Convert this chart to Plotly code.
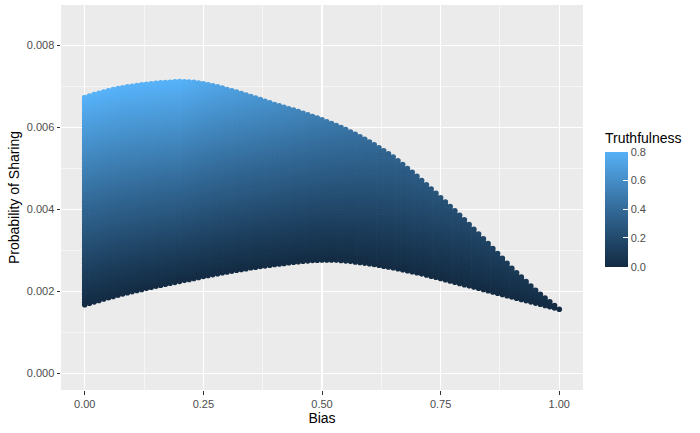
import numpy as np
import plotly.graph_objects as go

# ---- data ----
bias = [round(0.01 * i, 2) for i in range(101)]
truthfulness = [round(0.01 * i, 2) for i in range(81)]

# probability of sharing at truthfulness = 0 (lower edge), per bias value (x 1e-3)
lower_e3 = [
    1.670, 1.705, 1.740, 1.775, 1.808, 1.840, 1.871, 1.901, 1.931, 1.961,
    1.990, 2.017, 2.043, 2.069, 2.095, 2.120, 2.144, 2.168, 2.192, 2.216,
    2.240, 2.264, 2.288, 2.312, 2.336, 2.360, 2.382, 2.404, 2.426, 2.448,
    2.470, 2.490, 2.510, 2.530, 2.550, 2.570, 2.586, 2.602, 2.618, 2.634,
    2.650, 2.664, 2.678, 2.692, 2.706, 2.720, 2.730, 2.740, 2.748, 2.755,
    2.760, 2.762, 2.762, 2.758, 2.750, 2.740, 2.728, 2.714, 2.700, 2.685,
    2.670, 2.651, 2.631, 2.611, 2.591, 2.570, 2.547, 2.523, 2.499, 2.475,
    2.450, 2.423, 2.395, 2.367, 2.339, 2.310, 2.280, 2.250, 2.220, 2.190,
    2.160, 2.130, 2.100, 2.070, 2.040, 2.010, 1.980, 1.950, 1.920, 1.890,
    1.860, 1.830, 1.800, 1.770, 1.740, 1.710, 1.680, 1.650, 1.620, 1.590,
    1.560,
]
# probability of sharing at the highest truthfulness present in each column
# (0.8 up to bias 0.2, then 1 - bias), per bias value (x 1e-3)
upper_e3 = [
    6.720, 6.757, 6.793, 6.827, 6.859, 6.890, 6.916, 6.940, 6.962, 6.982,
    7.000, 7.016, 7.031, 7.045, 7.058, 7.070, 7.080, 7.089, 7.097, 7.104,
    7.110, 7.108, 7.102, 7.092, 7.078, 7.060, 7.036, 7.010, 6.982, 6.952,
    6.920, 6.887, 6.854, 6.820, 6.785, 6.750, 6.711, 6.672, 6.633, 6.594,
    6.555, 6.520, 6.485, 6.450, 6.415, 6.380, 6.341, 6.302, 6.262, 6.221,
    6.180, 6.134, 6.088, 6.040, 5.991, 5.940, 5.884, 5.826, 5.766, 5.704,
    5.640, 5.570, 5.498, 5.424, 5.348, 5.270, 5.180, 5.088, 4.994, 4.898,
    4.800, 4.698, 4.594, 4.490, 4.385, 4.280, 4.173, 4.066, 3.959, 3.851,
    3.740, 3.625, 3.509, 3.393, 3.277, 3.160, 3.040, 2.920, 2.800, 2.680,
    2.560, 2.450, 2.342, 2.234, 2.127, 2.020, 1.926, 1.834, 1.742, 1.651,
    1.560,
]

x_ticks = [0, 0.25, 0.5, 0.75, 1.0]
x_ticklabels = ["0.00", "0.25", "0.50", "0.75", "1.00"]
y_ticks = [0, 0.002, 0.004, 0.006, 0.008]
y_ticklabels = ["0.000", "0.002", "0.004", "0.006", "0.008"]
cb_ticks = [0, 0.2, 0.4, 0.6, 0.8]
cb_ticklabels = ["0.0", "0.2", "0.4", "0.6", "0.8"]

# ---- build the points: truthfulness only goes up to min(0.8, 1 - bias) ----
lo = np.array(lower_e3) * 1e-3
hi = np.array(upper_e3) * 1e-3
tmax = max(truthfulness)
col_tmax = [min(tmax, round(1 - b, 2)) for b in bias]
xs, ys, cs = [], [], []
for t in truthfulness:
    for i, b in enumerate(bias):
        if t > col_tmax[i] + 1e-9:
            continue
        frac = t / col_tmax[i] if col_tmax[i] > 0 else 0.0
        xs.append(b)
        ys.append(lo[i] + (hi[i] - lo[i]) * frac)
        cs.append(t)


# ---- ggplot-like gradient (Lab interpolation of #132B43 -> #56B1F7) ----
def hex2rgb(h):
    h = h.lstrip("#")
    return [int(h[k:k + 2], 16) / 255 for k in (0, 2, 4)]


def srgb2lin(c):
    return c / 12.92 if c <= 0.04045 else ((c + 0.055) / 1.055) ** 2.4


def lin2srgb(c):
    c = min(max(c, 0), 1)
    return 12.92 * c if c <= 0.0031308 else 1.055 * c ** (1 / 2.4) - 0.055


WHITE = (0.95047, 1.0, 1.08883)


def rgb2lab(rgb):
    r, g, b = [srgb2lin(c) for c in rgb]
    X = 0.4124564 * r + 0.3575761 * g + 0.1804375 * b
    Y = 0.2126729 * r + 0.7151522 * g + 0.0721750 * b
    Z = 0.0193339 * r + 0.1191920 * g + 0.9503041 * b

    def f(t):
        return t ** (1 / 3) if t > 0.008856 else 7.787 * t + 16 / 116

    fx, fy, fz = f(X / WHITE[0]), f(Y / WHITE[1]), f(Z / WHITE[2])
    return (116 * fy - 16, 500 * (fx - fy), 200 * (fy - fz))


def lab2rgb(lab):
    L, a, bb = lab
    fy = (L + 16) / 116
    fx = fy + a / 500
    fz = fy - bb / 200

    def finv(t):
        return t ** 3 if t ** 3 > 0.008856 else (t - 16 / 116) / 7.787

    X, Y, Z = finv(fx) * WHITE[0], finv(fy) * WHITE[1], finv(fz) * WHITE[2]
    r = 3.2404542 * X - 1.5371385 * Y - 0.4985314 * Z
    g = -0.9692660 * X + 1.8760108 * Y + 0.0415560 * Z
    b = 0.0556434 * X - 0.2040259 * Y + 1.0572252 * Z
    return [round(lin2srgb(c) * 255) for c in (r, g, b)]


lab_lo = rgb2lab(hex2rgb("#132B43"))
lab_hi = rgb2lab(hex2rgb("#56B1F7"))
colorscale = []
for k in range(11):
    s = k / 10
    lab = [lab_lo[j] + (lab_hi[j] - lab_lo[j]) * s for j in range(3)]
    r, g, b = lab2rgb(lab)
    colorscale.append([s, f"rgb({r},{g},{b})"])

# ---- figure ----
L, R, T, B = 61, 117, 5, 43
W, H = 700, 433
pw, ph = W - L - R, H - T - B

fig = go.Figure()
fig.add_trace(go.Scatter(
    x=xs, y=ys, mode="markers",
    marker=dict(
        size=5.6, color=cs, colorscale=colorscale, cmin=0, cmax=tmax,
        line=dict(width=0),
        colorbar=dict(
            thickness=23, thicknessmode="pixels",
            len=115, lenmode="pixels",
            x=(605 - L) / pw, xanchor="left", xpad=0,
            y=(H - B - 209.2) / ph, yanchor="middle", ypad=0,
            outlinewidth=0,
            tickvals=cb_ticks, ticktext=cb_ticklabels,
            ticks="inside", ticklen=5, tickcolor="white", tickwidth=1,
            tickfont=dict(size=11, color="#4D4D4D"),
            title=dict(text=""),
        ),
    ),
    hoverinfo="skip", showlegend=False,
))

fig.add_annotation(
    text="Truthfulness", x=(603 - L) / pw, y=(H - B - 138) / ph,
    xref="paper", yref="paper", xanchor="left", yanchor="middle",
    showarrow=False, font=dict(size=14, color="black"),
)

axis_common = dict(
    showgrid=True, gridcolor="white", gridwidth=1.1,
    zeroline=False, showline=False, automargin=False,
    ticks="outside", ticklen=3.5, tickwidth=1, tickcolor="#333333",
    tickfont=dict(size=11, color="#4D4D4D"),
)

fig.update_xaxes(
    range=[-0.05, 1.05], tickvals=x_ticks, ticktext=x_ticklabels,
    minor=dict(dtick=0.125, tick0=0, showgrid=True, gridcolor="white",
               gridwidth=0.55, ticks=""),
    title=dict(text="Bias", font=dict(size=14, color="black"), standoff=2),
    **axis_common,
)
fig.update_yaxes(
    range=[-0.00041, 0.00898], tickvals=y_ticks, ticktext=y_ticklabels,
    minor=dict(dtick=0.001, tick0=0, showgrid=True, gridcolor="white",
               gridwidth=0.55, ticks=""),
    title=dict(text="Probability of Sharing", font=dict(size=14, color="black"),
               standoff=3),
    **axis_common,
)

fig.update_layout(
    width=W, height=H,
    margin=dict(l=L, r=R, t=T, b=B, pad=0, autoexpand=False),
    paper_bgcolor="white", plot_bgcolor="#EBEBEB",
    font=dict(family="Liberation Sans, Arial, sans-serif"),
    hovermode=False,
)

fig.write_html(
    "out.html",
    config={"displayModeBar": False, "staticPlot": True},
    post_script="document.body.style.margin='0';document.body.style.overflow='hidden';",
)
